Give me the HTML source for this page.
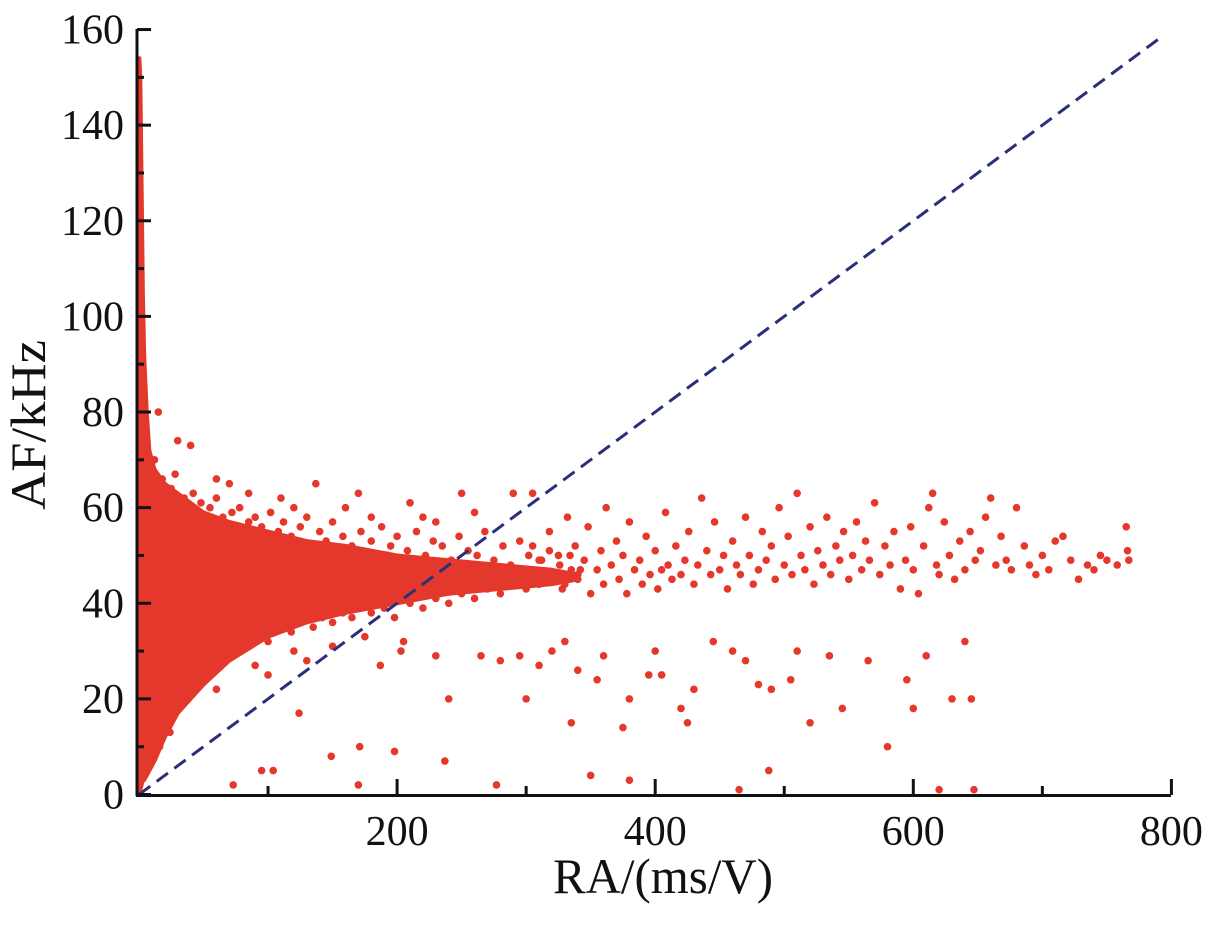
<!DOCTYPE html>
<html><head><meta charset="utf-8"><style>
body{margin:0;background:#fff}
svg{display:block}
text{font-family:"Liberation Serif",serif;fill:#111}
</style></head><body>
<svg id="chart" width="1221" height="931">
<g id="env"></g>
<g id="pts"></g>
<g id="ref"></g>
<g id="axes"></g>
<text x="45" y="425" font-size="50" text-anchor="middle" transform="rotate(-90 45 425)" textLength="170" lengthAdjust="spacingAndGlyphs">AF/kHz</text>
<text x="663" y="893" font-size="50" text-anchor="middle" textLength="220" lengthAdjust="spacingAndGlyphs">RA/(ms/V)</text>
</svg>
<script>
const xTicks=[200,400,600,800];
const yTicks=[0,20,40,60,80,100,120,140,160];
const envX=[0.3,1,2,3,4,6,8,12,20,30,50,70,100,130,160,200,240,280,320,340];
const envUpper=[154,150,128,105,92,80,72,68,65,63,59,57,55,53,52,50,49,48,47,46];
const envLower=[0.5,1,2,3,3,4,5,7,12,17,23,28,33,36,38,40,42,43,44,45];
const ptX=[300,305,310,312,318,320,325,328,332,335,338,340,345,348,350,355,358,360,362,366,370,372,375,378,380,384,388,390,393,396,400,402,405,408,410,413,416,420,423,426,430,433,436,440,443,446,450,453,456,460,463,466,470,473,476,480,483,486,490,493,496,500,503,506,510,513,516,520,523,526,530,533,536,540,543,546,550,553,556,560,563,566,570,574,578,582,585,590,594,598,600,604,608,612,615,618,620,624,628,632,636,640,644,648,652,656,660,664,668,672,676,680,686,690,695,700,705,710,716,722,728,735,740,745,750,758,765,766,767,
124,149,171,198,237,104,205,187,203,230,240,265,280,295,300,310,320,330,335,340,355,360,375,380,395,400,405,420,425,430,445,460,470,480,490,505,510,520,535,545,565,580,595,600,610,630,640,645,170,277,350,380,465,488,620,647,73,95,
137,170,210,250,290,305,70,30,40,15,120,180,230,260,
12,18,25,28,35,42,48,55,60,65,72,78,85,90,95,102,108,112,118,125,130,140,145,150,158,165,172,180,188,195,200,208,215,222,228,235,242,248,255,262,268,275,282,288,295,302,310,318,326,334,342,220,160,110,85,60,
8,12,16,20,24,28,34,38,44,50,56,62,68,74,80,88,95,100,110,118,125,135,142,150,158,165,172,180,190,198,210,220,230,240,250,260,270,280,290,300,310,320,330,340,60,90,120,150,175,100,130];
const ptY=[47,52,44,49,55,46,50,43,58,47,52,45,49,56,42,47,51,44,60,48,53,45,50,42,57,47,49,44,54,46,51,43,47,59,48,45,52,46,49,55,44,48,62,51,46,57,47,50,43,53,48,46,58,50,44,47,55,49,52,45,60,48,54,46,63,50,47,56,44,51,48,58,46,52,49,55,45,50,57,47,53,49,61,46,52,48,55,43,49,56,47,42,52,60,63,48,46,57,50,45,53,47,55,49,51,58,62,48,54,49,47,60,52,48,46,50,47,53,54,49,45,48,47,50,49,48,56,51,49,
17,8,10,9,7,5,32,27,30,29,20,29,28,29,20,27,30,32,15,26,24,29,14,20,25,30,25,18,15,22,32,30,28,23,22,24,30,15,29,18,28,10,24,18,29,20,32,20,2,2,4,3,1,5,1,1,2,5,
65,63,61,63,63,63,65,74,73,80,60,58,57,59,
70,66,64,67,62,63,61,60,62,58,59,60,57,58,56,59,55,57,54,56,58,55,53,57,54,52,55,53,56,52,54,51,55,50,53,52,49,54,51,50,55,49,52,48,53,50,49,51,48,50,47,58,60,62,63,66,
6,9,10,14,13,18,19,22,23,25,27,28,30,31,32,33,34,32,35,34,36,35,37,36,38,37,39,38,39,37,40,39,41,40,42,41,43,42,44,43,44,45,44,46,22,27,30,31,33,25,28];
const X0=139,XS=1.2905,Y0=794.5,YS=4.781;
const sx=v=>X0+v*XS, sy=v=>Y0-v*YS;
const NS='http://www.w3.org/2000/svg';
function mk(t,p,a){const e=document.createElementNS(NS,t);for(const k in a)e.setAttribute(k,a[k]);p.appendChild(e);return e;}
const env=document.getElementById('env');
let d='M'+sx(envX[0])+','+sy(envUpper[0]);
for(let i=1;i<envX.length;i++)d+='L'+sx(envX[i])+','+sy(envUpper[i]);
for(let i=envX.length-1;i>=0;i--)d+='L'+sx(envX[i])+','+sy(envLower[i]);
const ep=mk('path',env,{d:d+'Z',fill:'#e5382d',stroke:'#e5382d','stroke-width':4,'stroke-linejoin':'round'});


const pts=document.getElementById('pts');
for(let i=0;i<ptX.length;i++){
 const c=mk('circle',pts,{cx:sx(ptX[i]),cy:sy(ptY[i]),r:3.8,fill:'#e5382d'});
 
 
}
const ref=document.getElementById('ref');
const rl=mk('line',ref,{x1:sx(0),y1:sy(0),x2:sx(792),y2:sy(158.4),stroke:'#2a2f7c','stroke-width':3,'stroke-dasharray':'14 8'});


const ax=document.getElementById('axes');
mk('line',ax,{x1:137,y1:29,x2:137,y2:796,stroke:'#111','stroke-width':3});
mk('line',ax,{x1:136,y1:795.5,x2:1171,y2:795.5,stroke:'#111','stroke-width':3});
for(let v=0;v<=160;v+=10){const y=sy(v);mk('line',ax,{x1:137,y1:y,x2:137+(v%20?7:14),y2:y,stroke:'#111','stroke-width':3});}
for(let v=100;v<=800;v+=100){const x=sx(v);mk('line',ax,{x1:x,y1:795,x2:x,y2:795-(v%200?9:16),stroke:'#111','stroke-width':3});}
yTicks.forEach(v=>{const t=mk('text',ax,{x:124,y:sy(v)+14,'font-size':42,'text-anchor':'end'});t.textContent=v;
 
 });
xTicks.forEach(v=>{const t=mk('text',ax,{x:sx(v),y:845,'font-size':42,'text-anchor':'middle'});t.textContent=v;
 
 });
</script>
</body></html>
